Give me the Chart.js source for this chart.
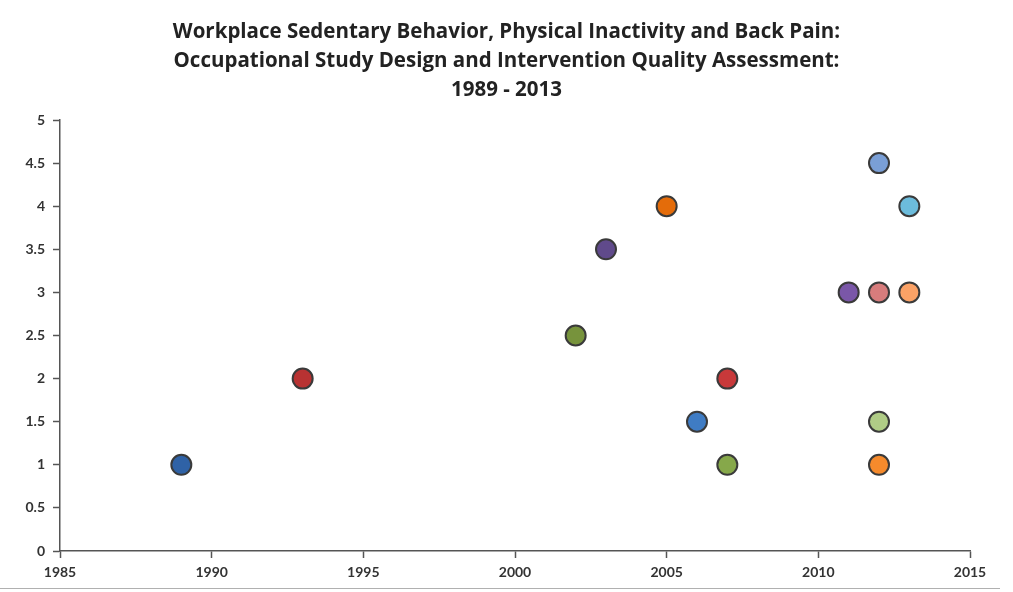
<!DOCTYPE html>
<html>
<head>
<meta charset="utf-8">
<script src="https://cdn.jsdelivr.net/npm/chart.js@4/dist/chart.umd.min.js"></script>
<style>
  html, body { margin: 0; padding: 0; background: #fff; }
  #wrap { position: relative; width: 1013px; height: 592px; }
  #edge { position: absolute; left: 0; top: 588px; width: 1000px; height: 1px; background: #b0b0b0; }
</style>
</head>
<body>
<div id="wrap">
  <canvas id="chart" width="1013" height="592"></canvas>
  <div id="edge"></div>
</div>
<script>
const years = [1989, 1993, 2002, 2003, 2005, 2006, 2007, 2007, 2011, 2012, 2012, 2012, 2012, 2013, 2013];
const scores = [1, 2, 2.5, 3.5, 4, 1.5, 2, 1, 3, 4.5, 3, 1.5, 1, 4, 3];
const colors = ['#2f62a6', '#b83232', '#77933c', '#604a8b', '#e46c0a', '#3f7cc4', '#c8393a', '#86a84a',
  '#7a57a8', '#7a9fd6', '#d77c7c', '#b0cc86', '#f58a2c', '#6cbcdc', '#fba266'];
const titleLines = [
  'Workplace Sedentary Behavior, Physical Inactivity and Back Pain:',
  'Occupational Study Design and Intervention Quality Assessment:',
  '1989 - 2013'
];
const xTicks = [1985, 1990, 1995, 2000, 2005, 2010, 2015];
const yTicks = [0, 0.5, 1, 1.5, 2, 2.5, 3, 3.5, 4, 4.5, 5];

const datasets = years.map((yr, i) => ({
  data: [{ x: yr, y: scores[i] }],
  backgroundColor: colors[i],
  borderColor: '#3a3a3a',
  borderWidth: 2,
  pointRadius: 10,
  pointHoverRadius: 10
}));

const tickFont = { family: 'Lato', size: 14, weight: 'bold' };

new Chart(document.getElementById('chart'), {
  type: 'scatter',
  data: { datasets },
  options: {
    responsive: false,
    animation: false,
    layout: { padding: 0 },
    plugins: {
      legend: { display: false },
      tooltip: { enabled: false },
      title: {
        display: true,
        text: titleLines,
        color: '#222',
        font: { family: 'Open Sans', size: 20.5, weight: 'bold', lineHeight: 29 / 20.5 },
        padding: { top: 18, bottom: 15 }
      }
    },
    scales: {
      x: {
        type: 'linear',
        min: 1985,
        max: 2015,
        afterBuildTicks: s => { s.ticks = xTicks.map(v => ({ value: v })); },
        afterFit: s => { s.height = 41; },
        border: { color: '#555', width: 1.5 },
        grid: { drawOnChartArea: false, tickLength: 7, color: '#555', tickWidth: 1.5 },
        ticks: { color: '#333', font: tickFont, padding: 6, maxRotation: 0, callback: v => String(v) }
      },
      y: {
        min: 0,
        max: 5,
        afterBuildTicks: s => { s.ticks = yTicks.map(v => ({ value: v })); },
        afterFit: s => { s.width = 60; },
        border: { color: '#555', width: 1.5 },
        grid: { drawOnChartArea: false, tickLength: 7, color: '#555', tickWidth: 1.5 },
        ticks: { color: '#333', font: tickFont, padding: 8, callback: v => String(v) }
      },
      // empty right-hand box that keeps the plot's right edge at 2015
      spacer: {
        position: 'right',
        display: true,
        min: 0,
        max: 5,
        afterFit: s => { s.width = 43; },
        border: { display: false },
        grid: { display: false },
        ticks: { display: false }
      }
    }
  }
});
</script>
</body>
</html>
